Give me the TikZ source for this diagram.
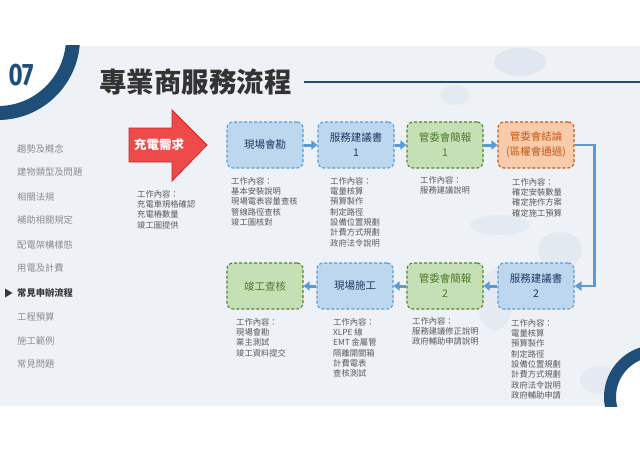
\documentclass[tikz,border=0pt]{standalone}
\usepackage{fontspec}
\setmainfont{Noto Sans CJK TC}
\newfontfamily\numfont{Fira Sans}
\usetikzlibrary{arrows.meta}
\definecolor{navy}{HTML}{1F4E79}
\definecolor{bgc}{HTML}{EEF1F6}
\definecolor{blob}{HTML}{D3DDEA}
\definecolor{titlec}{HTML}{333333}
\definecolor{menuc}{HTML}{8C8C8C}
\definecolor{menuact}{HTML}{3A3A3A}
\definecolor{workc}{HTML}{5A5A5A}
\definecolor{bfill}{HTML}{BDD7EE}
\definecolor{bdraw}{HTML}{5B9BD5}
\definecolor{btext}{HTML}{1F3864}
\definecolor{gfill}{HTML}{C5E0B4}
\definecolor{gdraw}{HTML}{548235}
\definecolor{gtext}{HTML}{4E7A2E}
\definecolor{ofill}{HTML}{F8CBAD}
\definecolor{odraw}{HTML}{C55A11}
\definecolor{otext}{HTML}{C55A11}
\definecolor{arrowc}{HTML}{5B9BD5}
\definecolor{redfill}{HTML}{EE4A4A}
\definecolor{reddraw}{HTML}{C62828}
\tikzset{
  menu/.style={anchor=west, inner sep=0, text=menuc, font=\fontsize{9.3}{11}\selectfont},
  flowbox/.style={rounded corners=6, dash pattern=on 3pt off 2pt, line width=1.1pt,
    minimum width=76pt, minimum height=46pt, align=center, inner sep=0,
    font=\fontsize{10.5}{15}\selectfont},
  bluebox/.style={flowbox, fill=bfill, draw=bdraw, text=btext},
  greenbox/.style={flowbox, fill=gfill, draw=gdraw, text=gtext},
  orangebox/.style={flowbox, fill=ofill, draw=odraw, text=otext},
  work/.style={anchor=north west, inner sep=0, align=left, text=workc,
    font=\fontsize{8.3}{10.3}\selectfont},
  flowarrow/.style={draw=arrowc, line width=3pt, -{Triangle[length=6pt,width=9pt]}},
  looparrow/.style={draw=arrowc, line width=2.5pt, -{Triangle[length=7pt,width=9pt]}}
}
\begin{document}
\begin{tikzpicture}[x=1pt,y=-1pt]
\useasboundingbox (0,0) rectangle (640,452);
\fill[white] (0,0) rectangle (640,452);
\begin{scope}
  \clip (0,46) rectangle (640,406);
  \fill[bgc] (0,46) rectangle (640,406);
  \fill[blob, opacity=0.45] (520,62) ellipse (26 and 14);
  \fill[blob, opacity=0.35] (455,95) ellipse (14 and 10);
  \fill[blob, opacity=0.35] (500,225) ellipse (30 and 10);
  \fill[blob, opacity=0.4] (560,250) ellipse (22 and 18);
  \fill[blob, opacity=0.3] (495,300) ellipse (18 and 30);
  \fill[blob, opacity=0.3] (600,380) ellipse (20 and 14);
  \fill[white] (-2,38) circle (75);
  \draw[navy, line width=14pt] (-2,38) circle (75);
  \fill[white] (656,397) circle (46);
  \draw[navy, line width=12pt] (656,397) circle (46);
\end{scope}
% number and title
\node[text=navy, font=\numfont\bfseries\fontsize{31}{31}\selectfont, xscale=0.78, inner sep=0] (num) at (21,75) {07};
\node[anchor=west, inner sep=0, text=titlec, font=\bfseries\fontsize{27.5}{28}\selectfont] (title) at (99,82) {專業商服務流程};
\draw[navy, line width=2pt] ([xshift=12pt]title.east) -- (640,82);
% menu
\node[menu] (m1) at (17,149) {趨勢及概念};
\node[menu] (m2) at (17,172) {建物類型及問題};
\node[menu] (m3) at (17,197) {相關法規};
\node[menu] (m4) at (17,220) {補助相關規定};
\node[menu] (m5) at (17,245) {配電架構樣態};
\node[menu] (m6) at (17,268) {用電及計費};
\node[menu, text=menuact, font=\bfseries\fontsize{9.3}{11}\selectfont] (m7) at (17,293) {常見申辦流程};
\fill[menuact] (5,288.5) -- (12.5,293) -- (5,297.5) -- cycle;
\node[menu] (m8) at (17,317) {工程預算};
\node[menu] (m9) at (17,341) {施工範例};
\node[menu] (m10) at (17,364) {常見問題};
% red arrow
\draw[fill=redfill, draw=reddraw, line width=0.8pt] (129,128) -- (172,128) -- (172,110) -- (207,145) -- (172,181) -- (172,162) -- (129,162) -- cycle;
\node[text=white, inner sep=0, font=\bfseries\fontsize{12.5}{14}\selectfont] (need) at (159,145) {充電需求};
\node[work] (w0) at (137,190) {工作內容：\\充電車規格確認\\充電樁數量\\竣工圖提供};
% row 1
\node[bluebox] (b1) at (265,145) {現場會勘};
\node[bluebox] (b2) at (356,145) {服務建議書\\1};
\node[greenbox] (b3) at (445,145) {管委會簡報\\1};
\node[orangebox] (b4) at (536,145) {管委會結論\\(區權會通過)};
% row 2
\node[bluebox] (b5) at (536,286) {服務建議書\\2};
\node[greenbox] (b6) at (445,286) {管委會簡報\\2};
\node[bluebox] (b7) at (355,286) {現場施工};
\node[greenbox] (b8) at (265,286) {竣工查核};
% arrows
\draw[flowarrow] (b1) -- (b2);
\draw[flowarrow] (b2) -- (b3);
\draw[flowarrow] (b3) -- (b4);
\draw[looparrow] (b4.east) -- ++(20,0) |- (b5.east);
\draw[flowarrow] (b5) -- (b6);
\draw[flowarrow] (b6) -- (b7);
\draw[flowarrow] (b7) -- (b8);
% work texts
\node[work] (w1) at (231,177) {工作內容：\\基本安裝說明\\現場電表容量查核\\管線路徑查核\\竣工圖核對};
\node[work] (w2) at (330,177) {工作內容：\\電量核算\\預算製作\\制定路徑\\設備位置規劃\\計費方式規劃\\政府法令說明};
\node[work] (w3) at (420,176) {工作內容：\\服務建議說明};
\node[work] (w4) at (512,178) {工作內容：\\確定安裝數量\\確定施作方案\\確定施工預算};
\node[work] (w8) at (236,318) {工作內容：\\現場會勘\\業主測試\\竣工資料提交};
\node[work] (w7) at (333,318) {工作內容：\\XLPE 線\\EMT 金屬管\\隔離開關箱\\計費電表\\查核測試};
\node[work] (w6) at (412,317) {工作內容：\\服務建議修正說明\\政府輔助申請說明};
\node[work] (w5) at (511,319) {工作內容：\\電量核算\\預算製作\\制定路徑\\設備位置規劃\\計費方式規劃\\政府法令說明\\政府輔助申請};
\end{tikzpicture}
\end{document}
